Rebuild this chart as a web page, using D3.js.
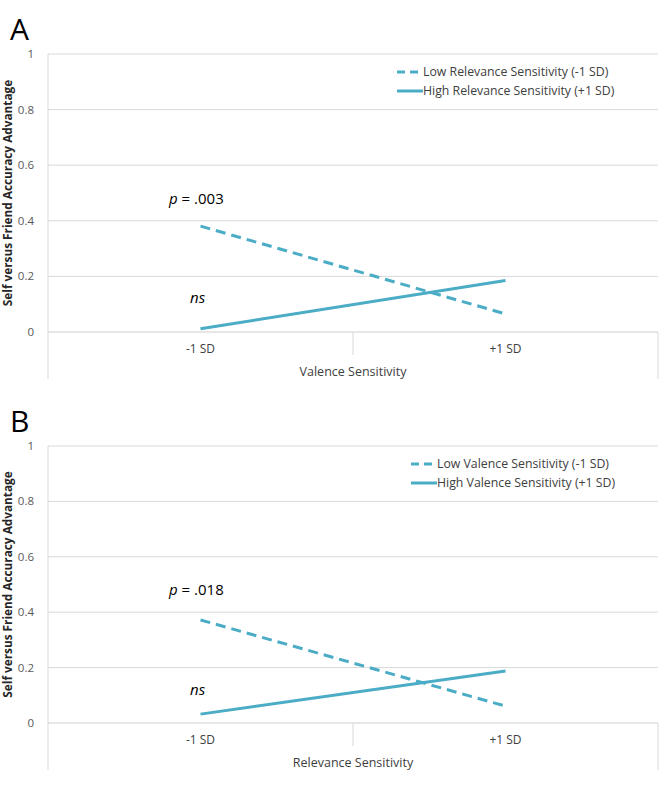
<!DOCTYPE html>
<html>
<head>
<meta charset="utf-8">
<script src="https://cdn.jsdelivr.net/npm/d3@7"></script>
<style>
  body { margin: 0; background: #fff; }
  text { font-family: "Open Sans", Lato, sans-serif; }
</style>
</head>
<body>
<div id="chart"></div>
<script>
// categories and values
var categories = ["-1 SD", "+1 SD"];
var yTicks = [0, 0.2, 0.4, 0.6, 0.8, 1];
var yTickLabels = ["0", "0.2", "0.4", "0.6", "0.8", "1"];

var lowA = [0.381, 0.065];
var highA = [0.012, 0.185];
var lowB = [0.372, 0.061];
var highB = [0.032, 0.188];

var panels = [
	{ letter: "A", top: 54, bottom: 332, low: lowA, high: highA,
	  lowLabel: "Low Relevance Sensitivity (-1 SD)", highLabel: "High Relevance Sensitivity (+1 SD)",
	  xTitle: "Valence Sensitivity", pText: ".003", legendX: 397 },
	{ letter: "B", top: 446, bottom: 723, low: lowB, high: highB,
	  lowLabel: "Low Valence Sensitivity (-1 SD)", highLabel: "High Valence Sensitivity (+1 SD)",
	  xTitle: "Relevance Sensitivity", pText: ".018", legendX: 411 }
];

var width = 668, height = 804;
var color = "#4bacc6";
var left = 48, right = 658;

var svg = d3.select("#chart")
	.append("svg")
	.attr("width", width)
	.attr("height", height);

panels.forEach(function(p) {
	var g = svg.append("g");

	var x = d3.scaleBand()
		.domain(categories)
		.range([left, right]);

	var y = d3.scaleLinear()
		.domain([0, 1])
		.range([p.bottom, p.top]);

	// gridlines
	g.selectAll(".grid")
		.data(yTicks.slice(1))
		.enter()
		.append("line")
		.attr("x1", left).attr("x2", right)
		.attr("y1", function(d) { return y(d); })
		.attr("y2", function(d) { return y(d); })
		.attr("stroke", "#d9d9d9")
		.attr("stroke-width", 1);

	// y tick labels
	g.selectAll(".ylab")
		.data(yTicks)
		.enter()
		.append("text")
		.attr("x", 34)
		.attr("y", function(d) { return y(d); })
		.attr("dy", "0.35em")
		.attr("text-anchor", "end")
		.attr("font-size", 11.5)
		.attr("fill", "#595959")
		.text(function(d, i) { return yTickLabels[i]; });

	// left axis line and x axis
	g.append("line")
		.attr("x1", left).attr("x2", left)
		.attr("y1", y(1)).attr("y2", p.bottom + 47)
		.attr("stroke", "#d9d9d9");
	g.append("line")
		.attr("x1", right).attr("x2", right)
		.attr("y1", y(0)).attr("y2", p.bottom + 47)
		.attr("stroke", "#d9d9d9");
	g.append("line")
		.attr("x1", left).attr("x2", right)
		.attr("y1", y(0)).attr("y2", y(0))
		.attr("stroke", "#d0d0d0")
		.attr("stroke-width", 1.2);
	g.append("line")
		.attr("x1", x(categories[1])).attr("x2", x(categories[1]))
		.attr("y1", y(0)).attr("y2", p.bottom + 23)
		.attr("stroke", "#d9d9d9");

	// category labels
	g.selectAll(".xlab")
		.data(categories)
		.enter()
		.append("text")
		.attr("x", function(d) { return x(d) + x.bandwidth() / 2; })
		.attr("y", p.bottom + 17)
		.attr("dy", "0.35em")
		.attr("text-anchor", "middle")
		.attr("font-size", 12)
		.attr("fill", "#404040")
		.text(function(d) { return d; });

	g.append("text")
		.attr("x", x(categories[1]))
		.attr("y", p.bottom + 40)
		.attr("dy", "0.35em")
		.attr("text-anchor", "middle")
		.attr("font-size", 12.5)
		.attr("fill", "#404040")
		.text(p.xTitle);

	// y title
	g.append("text")
		.attr("transform", "translate(12," + ((p.top + p.bottom) / 2) + ") rotate(-90)")
		.attr("text-anchor", "middle")
		.attr("font-size", 11.8)
		.attr("font-weight", "bold")
		.attr("fill", "#262626")
		.text("Self versus Friend Accuracy Advantage");

	// panel letter
	g.append("text")
		.attr("x", 10)
		.attr("y", p.top - 14)
		.attr("font-size", 30)
		.attr("fill", "#000")
		.text(p.letter);

	// lines
	var line = d3.line()
		.x(function(d, i) { return x(categories[i]) + x.bandwidth() / 2; })
		.y(function(d) { return y(d); });

	g.append("path")
		.datum(p.low)
		.attr("d", line)
		.attr("fill", "none")
		.attr("stroke", color)
		.attr("stroke-width", 3)
		.attr("stroke-dasharray", "10,6");

	g.append("path")
		.datum(p.high)
		.attr("d", line)
		.attr("fill", "none")
		.attr("stroke", color)
		.attr("stroke-width", 3);

	// annotations
	var pt = g.append("text")
		.attr("x", 169)
		.attr("y", y(0.4) - 17)
		.attr("font-size", 15)
		.attr("fill", "#000");
	pt.append("tspan").attr("font-style", "italic").text("p");
	pt.append("tspan").text(" = " + p.pText);

	g.append("text")
		.attr("x", 190)
		.attr("y", y(0.2) + 27)
		.attr("font-size", 15)
		.attr("font-style", "italic")
		.attr("fill", "#000")
		.text("ns");

	// legend
	var legend = g.append("g");
	var rows = [
		{ label: p.lowLabel, dash: "8,5", dy: 18 },
		{ label: p.highLabel, dash: null, dy: 37 }
	];
	rows.forEach(function(r) {
		legend.append("line")
			.attr("x1", p.legendX).attr("x2", p.legendX + 26)
			.attr("y1", p.top + r.dy).attr("y2", p.top + r.dy)
			.attr("stroke", color)
			.attr("stroke-width", 3)
			.attr("stroke-dasharray", r.dash);
		legend.append("text")
			.attr("x", p.legendX + 26)
			.attr("y", p.top + r.dy)
			.attr("dy", "0.35em")
			.attr("font-size", 12.3)
			.attr("fill", "#404040")
			.text(r.label);
	});
});
</script>
</body>
</html>
